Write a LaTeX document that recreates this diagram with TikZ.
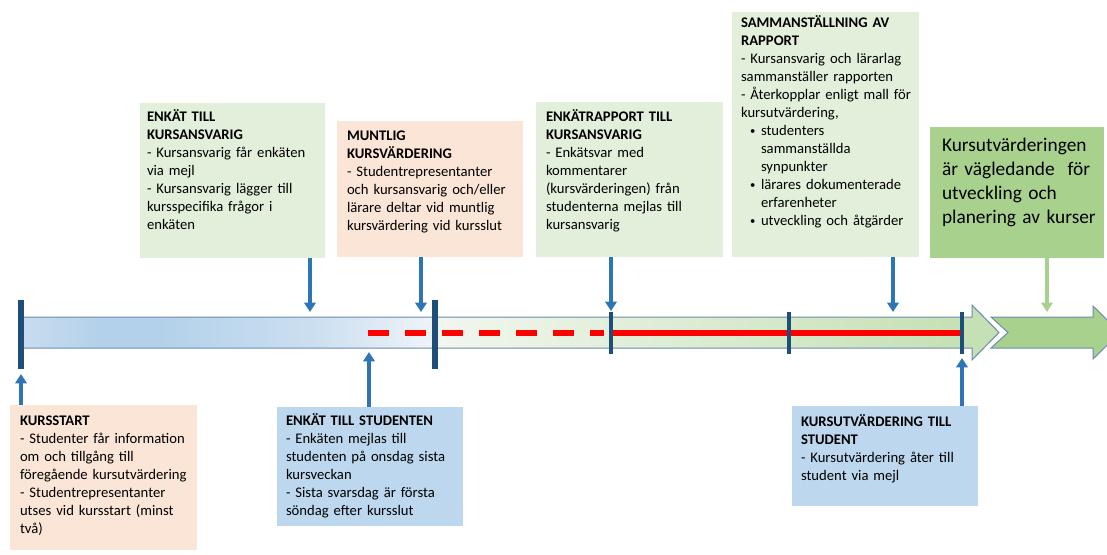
\documentclass[tikz,border=0pt]{standalone}
\usepackage{fontspec}
\setmainfont{Carlito}
\usetikzlibrary{arrows.meta,fit}
\definecolor{boxgreen}{HTML}{E2EFDA}
\definecolor{boxpeach}{HTML}{FBE5D6}
\definecolor{boxblue}{HTML}{BDD7EE}
\definecolor{boxdkgreen}{HTML}{A9D18E}
\definecolor{tickblue}{HTML}{1F4E79}
\definecolor{arrblue}{HTML}{2E75B6}
\definecolor{outl}{HTML}{6A8CAD}
\definecolor{bcA}{HTML}{C8DCEF}
\definecolor{bcB}{HTML}{B3D1EA}
\definecolor{bcC}{HTML}{CCDFF0}
\definecolor{bcD}{HTML}{EEF3F8}
\definecolor{bcE}{HTML}{F1F6EE}
\definecolor{bcF}{HTML}{C5E0B4}
\pgfdeclarehorizontalshading{barshade}{100bp}{color(0bp)=(bcA); color(25bp)=(bcA); color(29bp)=(bcB); color(32bp)=(bcB); color(40bp)=(bcC); color(46bp)=(bcD); color(46.5bp)=(bcE); color(73.5bp)=(bcF); color(100bp)=(bcF)}
\newcommand{\bulletitem}{\hspace*{6.75pt}\makebox[8.25pt][l]{\raisebox{0.6pt}{\fontsize{8pt}{8pt}\selectfont •}}}
\begin{document}
\begin{tikzpicture}[x=0.75pt,y=-0.75pt,
  font=\fontsize{11pt}{13.5pt}\selectfont,
  boxnode/.style={inner sep=0pt, outer sep=0pt, draw=none},
  txt/.style={anchor=base west, inner sep=0pt, outer sep=0pt, align=left, text width=190pt},
  bigtxt/.style={anchor=base west, inner sep=0pt, outer sep=0pt, align=left, text width=150pt, font=\fontsize{14.5pt}{18pt}\selectfont},
  arr/.style={draw=arrblue, line width=2.3pt, -{Triangle[width=8.5pt,length=7pt]}},
  garr/.style={draw=boxdkgreen, line width=2.3pt, -{Triangle[width=8.5pt,length=7pt]}},
  thicktick/.style={draw=tickblue, line width=5pt},
  thintick/.style={draw=tickblue, line width=2.3pt},
  redline/.style={draw=red, line width=4pt}]
\useasboundingbox (0,0) rectangle (1107,554);
\fill[white] (0,0) rectangle (1107,554);

% timeline bar
\shadedraw[shading=barshade, draw=outl, line width=0.75pt]
  (22,317) -- (972,317) -- (972,305) -- (999,332.5) -- (972,360) -- (972,348) -- (22,348) -- cycle;
\filldraw[fill=boxdkgreen, draw=outl, line width=0.75pt]
  (991,317) -- (1093,317) -- (1093,306) -- (1120,332.5) -- (1093,359) -- (1093,348) -- (991,348) -- (1008,332.5) -- cycle;

% red line
\draw[redline, dash pattern=on 15.75pt off 12pt] (368,333) -- (604,333);
\draw[redline] (611,333) -- (962,333);

% ticks
\draw[thicktick] (21,300) -- (21,369);
\draw[thicktick] (435,300) -- (435,369);
\draw[thintick] (611,312) -- (611,354);
\draw[thintick] (789,312) -- (789,354);
\draw[thintick] (962,312) -- (962,354);

% boxes
\node[boxnode, fill=boxgreen, fit={(140,103) (325,258)}] (b1) {};
\node[boxnode, fill=boxpeach, fit={(337,121) (523,257)}] (b2) {};
\node[boxnode, fill=boxgreen, fit={(536,102) (723,257)}] (b3) {};
\node[boxnode, fill=boxgreen, fit={(732,12) (919,257)}] (b4) {};
\node[boxnode, fill=boxdkgreen, fit={(930,127) (1104,258)}] (b5) {};
\node[boxnode, fill=boxpeach, fit={(10,405) (197,550)}] (b6) {};
\node[boxnode, fill=boxblue, fit={(277,407) (463,526)}] (b7) {};
\node[boxnode, fill=boxblue, fit={(792,406) (978,506)}] (b8) {};

% texts
\node[txt] (t1) at (147,121) {\textbf{ENKÄT TILL}\\\textbf{KURSANSVARIG}\\- Kursansvarig får enkäten\\via mejl\\- Kursansvarig lägger till\\kursspecifika frågor i\\enkäten};
\node[txt] (t2) at (347,140) {\textbf{MUNTLIG}\\\textbf{KURSVÄRDERING}\\- Studentrepresentanter\\och kursansvarig och/eller\\lärare deltar vid muntlig\\kursvärdering vid kursslut};
\node[txt] (t3) at (546,121) {\textbf{ENKÄTRAPPORT TILL}\\\textbf{KURSANSVARIG}\\- Enkätsvar med\\kommentarer\\(kursvärderingen) från\\studenterna mejlas till\\kursansvarig};
\node[txt] (t4) at (741,27) {\textbf{SAMMANSTÄLLNING AV}\\\textbf{RAPPORT}\\- Kursansvarig och lärarlag\\sammanställer rapporten\\- Återkopplar enligt mall för\\kursutvärdering,\\
\bulletitem studenters\\\hspace*{15pt}sammanställda\\\hspace*{15pt}synpunkter\\
\bulletitem lärares dokumenterade\\\hspace*{15pt}erfarenheter\\
\bulletitem utveckling och åtgärder};
\node[bigtxt] (t5) at (942,151) {Kursutvärderingen\\är vägledande\ \ för\\utveckling och\\planering av kurser};
\node[txt] (t6) at (20,425) {\textbf{KURSSTART}\\- Studenter får information\\om och tillgång till\\föregående kursutvärdering\\- Studentrepresentanter\\utses vid kursstart (minst\\två)};
\node[txt] (t7) at (286,425) {\textbf{ENKÄT TILL STUDENTEN}\\- Enkäten mejlas till\\studenten på onsdag sista\\kursveckan\\- Sista svarsdag är första\\söndag efter kursslut};
\node[txt] (t8) at (801,426) {\textbf{KURSUTVÄRDERING TILL}\\\textbf{STUDENT}\\- Kursutvärdering åter till\\student via mejl};

% arrow end points
\coordinate (e1) at (310,312);
\coordinate (e2) at (421,312);
\coordinate (e3) at (611,311);
\coordinate (e4) at (893,312);
\coordinate (e5) at (1047,312);
\coordinate (e6) at (21,374);
\coordinate (e7) at (369,352);
\coordinate (e8) at (962,358);

\draw[arr] (b1.south -| e1) -- (e1);
\draw[arr] (b2.south -| e2) -- (e2);
\draw[arr] (b3.south -| e3) -- (e3);
\draw[arr] (b4.south -| e4) -- (e4);
\draw[garr] (b5.south -| e5) -- (e5);
\draw[arr] (b6.north -| e6) -- (e6);
\draw[arr] (b7.north -| e7) -- (e7);
\draw[arr] (b8.north -| e8) -- (e8);
\end{tikzpicture}
\end{document}
